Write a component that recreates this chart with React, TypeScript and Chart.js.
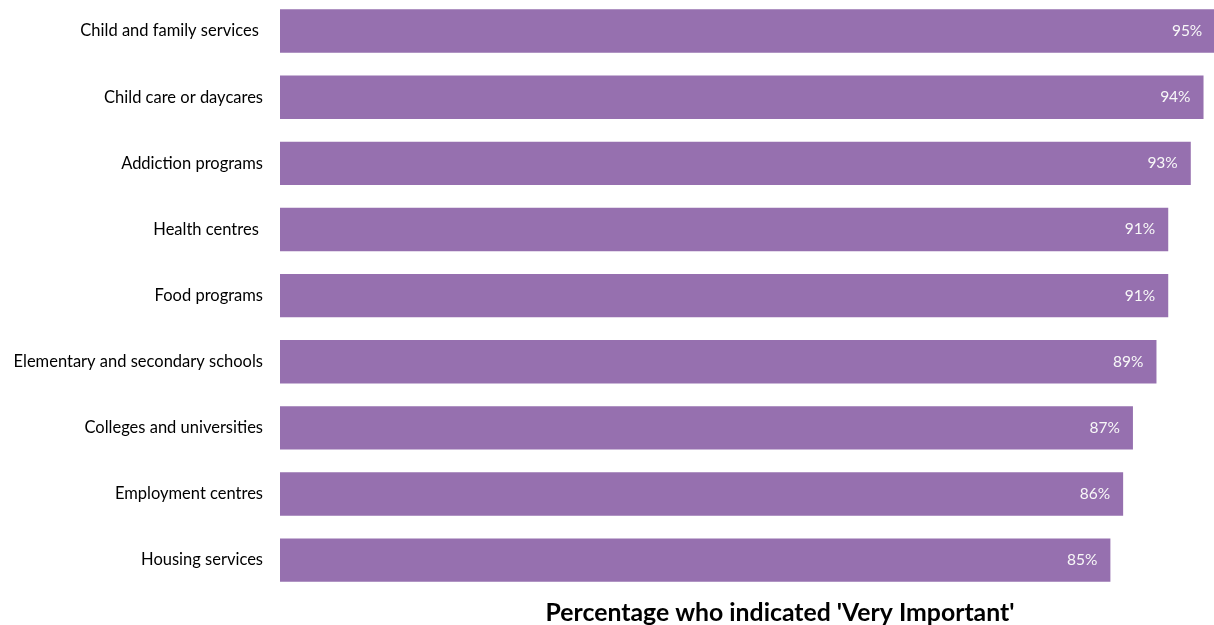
import { useEffect, useRef } from 'react';
import { Chart, registerables } from 'chart.js';

Chart.register(...registerables);

const categories = [
  'Child and family services ',
  'Child care or daycares',
  'Addiction programs',
  'Health centres ',
  'Food programs',
  'Elementary and secondary schools',
  'Colleges and universities',
  'Employment centres',
  'Housing services',
];
const values = [95.4, 94.2, 92.9, 90.6, 90.6, 89.4, 87.0, 86.0, 84.7];
const axisTitle = "Percentage who indicated 'Very Important'";
const xMin = 0;
const xMax = 102;

const barColor = '#9670AF';

const barLabels = {
  id: 'barLabels',
  afterDatasetsDraw(chart: any) {
    const { ctx } = chart;
    const meta = chart.getDatasetMeta(0);
    ctx.save();
    ctx.font = '15.5px Lato';
    ctx.fillStyle = '#f8f8f8';
    ctx.textAlign = 'right';
    ctx.textBaseline = 'middle';
    meta.data.forEach((el: any, i: number) => {
      ctx.fillText(Math.round(values[i]) + '%', el.x - 13, el.y);
    });
    ctx.restore();
  },
};

export default function App() {
  const ref = useRef<HTMLCanvasElement>(null);
  useEffect(() => {
    if (!ref.current) return;
    const chart = new Chart(ref.current, {
      type: 'bar',
      data: {
        labels: categories,
        datasets: [
          {
            data: values,
            backgroundColor: barColor,
            borderWidth: 0,
            categoryPercentage: 1,
            barPercentage: 0.656,
          },
        ],
      },
      options: {
        indexAxis: 'y',
        responsive: false,
        animation: false,
        layout: { padding: 0 },
        plugins: { legend: { display: false }, tooltip: { enabled: false }, title: { display: false } },
        scales: {
          x: {
            min: xMin,
            max: xMax,
            ticks: { display: false },
            grid: { display: false, drawTicks: false },
            border: { display: false },
            title: {
              display: true,
              text: axisTitle,
              color: '#000000',
              font: { family: 'Lato', size: 24.8, weight: 'bold', lineHeight: 1 },
              padding: { top: 7, bottom: 0 },
            },
            afterFit(scale: any) {
              scale.paddingLeft = 0;
              scale.paddingRight = 0;
            },
          },
          y: {
            ticks: {
              color: '#000000',
              font: { family: 'Lato', size: 16.5 },
              padding: 17,
            },
            grid: { display: false, drawTicks: false },
            border: { display: false },
            afterFit(scale: any) {
              scale.width = 280;
              scale.paddingTop = 0;
              scale.paddingBottom = 0;
            },
          },
        },
      },
      plugins: [barLabels],
    });
    return () => chart.destroy();
  }, []);
  return (
    <div style={{ position: 'fixed', left: 0, top: -2, width: 1280, height: 627, background: '#fff' }}>
      <canvas ref={ref} width={1280} height={627} />
    </div>
  );
}
